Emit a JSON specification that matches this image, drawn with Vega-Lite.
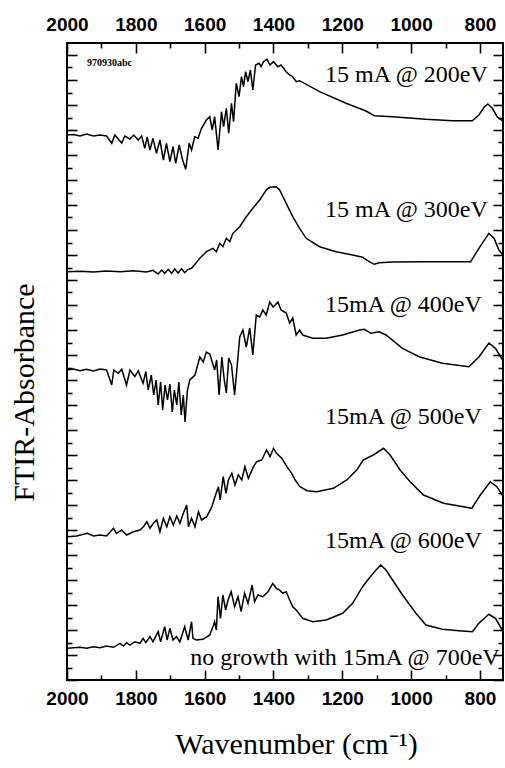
{
  "$schema": "https://vega.github.io/schema/vega-lite/v6.json",
  "width": 436,
  "height": 637,
  "autosize": {"type": "none"},
  "padding": {"left": 67, "top": 43, "right": 2, "bottom": 88},
  "background": "white",
  "config": {
    "view": {"stroke": "black", "strokeWidth": 2},
    "axis": {"domain": false, "grid": false, "tickColor": "black", "tickWidth": 1.6, "labelColor": "black", "titleColor": "black"}
  },
  "datasets": {
    "spectra": [
      {"s":"200eV","w":2000,"A":545},{"s":"200eV","w":1981,"A":545.5},{"s":"200eV","w":1962,"A":544},{"s":"200eV","w":1943,"A":546},{"s":"200eV","w":1923,"A":544},{"s":"200eV","w":1904,"A":545},{"s":"200eV","w":1885,"A":544},{"s":"200eV","w":1870,"A":536.7},{"s":"200eV","w":1861,"A":545},{"s":"200eV","w":1841,"A":537},{"s":"200eV","w":1832,"A":544},{"s":"200eV","w":1817,"A":541},{"s":"200eV","w":1806,"A":545},{"s":"200eV","w":1793,"A":540},{"s":"200eV","w":1783,"A":544},{"s":"200eV","w":1774,"A":531.7},{"s":"200eV","w":1767,"A":543},{"s":"200eV","w":1759,"A":530},{"s":"200eV","w":1750,"A":541.7},{"s":"200eV","w":1740,"A":526.7},{"s":"200eV","w":1730,"A":540},{"s":"200eV","w":1720,"A":520},{"s":"200eV","w":1711,"A":536.7},{"s":"200eV","w":1701,"A":518.3},{"s":"200eV","w":1692,"A":533.3},{"s":"200eV","w":1684,"A":516.7},{"s":"200eV","w":1674,"A":535},{"s":"200eV","w":1664,"A":520},{"s":"200eV","w":1655,"A":510.7},{"s":"200eV","w":1645,"A":536.7},{"s":"200eV","w":1638,"A":530},{"s":"200eV","w":1629,"A":543.3},{"s":"200eV","w":1619,"A":541.7},{"s":"200eV","w":1609,"A":551.7},{"s":"200eV","w":1595,"A":560},{"s":"200eV","w":1585,"A":563.3},{"s":"200eV","w":1578,"A":550},{"s":"200eV","w":1571,"A":563.3},{"s":"200eV","w":1561,"A":530},{"s":"200eV","w":1551,"A":568.3},{"s":"200eV","w":1545,"A":553.3},{"s":"200eV","w":1537,"A":571.7},{"s":"200eV","w":1530,"A":546.7},{"s":"200eV","w":1522,"A":576.7},{"s":"200eV","w":1516,"A":558.3},{"s":"200eV","w":1508,"A":596.7},{"s":"200eV","w":1500,"A":583.3},{"s":"200eV","w":1493,"A":603.3},{"s":"200eV","w":1487,"A":593.3},{"s":"200eV","w":1481,"A":608.3},{"s":"200eV","w":1474,"A":598.3},{"s":"200eV","w":1467,"A":610},{"s":"200eV","w":1460,"A":590},{"s":"200eV","w":1452,"A":615},{"s":"200eV","w":1442,"A":616.7},{"s":"200eV","w":1436,"A":613.3},{"s":"200eV","w":1429,"A":618.3},{"s":"200eV","w":1419,"A":620.7},{"s":"200eV","w":1410,"A":615},{"s":"200eV","w":1400,"A":618.3},{"s":"200eV","w":1387,"A":613.3},{"s":"200eV","w":1378,"A":615},{"s":"200eV","w":1363,"A":608.3},{"s":"200eV","w":1353,"A":605},{"s":"200eV","w":1344,"A":603.3},{"s":"200eV","w":1334,"A":598.3},{"s":"200eV","w":1324,"A":599.3},{"s":"200eV","w":1266,"A":588.3},{"s":"200eV","w":1189,"A":576.7},{"s":"200eV","w":1131,"A":569},{"s":"200eV","w":1107,"A":564.3},{"s":"200eV","w":1054,"A":563.3},{"s":"200eV","w":957,"A":560.7},{"s":"200eV","w":880,"A":559.3},{"s":"200eV","w":822,"A":559.3},{"s":"200eV","w":803,"A":565},{"s":"200eV","w":788,"A":572.7},{"s":"200eV","w":777,"A":576},{"s":"200eV","w":764,"A":571.7},{"s":"200eV","w":750,"A":563.3},{"s":"200eV","w":735,"A":559.3},
      {"s":"300eV","w":2000,"A":408.3},{"s":"300eV","w":1962,"A":408.7},{"s":"300eV","w":1923,"A":408},{"s":"300eV","w":1885,"A":409},{"s":"300eV","w":1846,"A":408.3},{"s":"300eV","w":1807,"A":409.3},{"s":"300eV","w":1769,"A":408},{"s":"300eV","w":1750,"A":409.7},{"s":"300eV","w":1735,"A":406},{"s":"300eV","w":1725,"A":410},{"s":"300eV","w":1716,"A":406.7},{"s":"300eV","w":1706,"A":410.7},{"s":"300eV","w":1696,"A":406.7},{"s":"300eV","w":1687,"A":411},{"s":"300eV","w":1677,"A":407},{"s":"300eV","w":1667,"A":411.3},{"s":"300eV","w":1658,"A":407.3},{"s":"300eV","w":1648,"A":410.7},{"s":"300eV","w":1638,"A":411.7},{"s":"300eV","w":1614,"A":421.7},{"s":"300eV","w":1595,"A":428.3},{"s":"300eV","w":1576,"A":431.7},{"s":"300eV","w":1566,"A":428.3},{"s":"300eV","w":1556,"A":436.7},{"s":"300eV","w":1547,"A":433.3},{"s":"300eV","w":1537,"A":441.7},{"s":"300eV","w":1527,"A":438.3},{"s":"300eV","w":1518,"A":446.7},{"s":"300eV","w":1498,"A":453.3},{"s":"300eV","w":1479,"A":463.3},{"s":"300eV","w":1460,"A":471.7},{"s":"300eV","w":1440,"A":480},{"s":"300eV","w":1421,"A":490},{"s":"300eV","w":1411,"A":492.7},{"s":"300eV","w":1392,"A":493.3},{"s":"300eV","w":1382,"A":490},{"s":"300eV","w":1363,"A":476.7},{"s":"300eV","w":1344,"A":463.3},{"s":"300eV","w":1324,"A":451.7},{"s":"300eV","w":1305,"A":441.7},{"s":"300eV","w":1266,"A":433.3},{"s":"300eV","w":1218,"A":428.3},{"s":"300eV","w":1170,"A":425},{"s":"300eV","w":1141,"A":422.7},{"s":"300eV","w":1122,"A":418.3},{"s":"300eV","w":1107,"A":415.7},{"s":"300eV","w":1093,"A":417.3},{"s":"300eV","w":1054,"A":418},{"s":"300eV","w":957,"A":418.3},{"s":"300eV","w":827,"A":418.3},{"s":"300eV","w":803,"A":431.7},{"s":"300eV","w":774,"A":446.7},{"s":"300eV","w":759,"A":441.7},{"s":"300eV","w":745,"A":430},{"s":"300eV","w":733,"A":425},
      {"s":"400eV","w":2000,"A":310},{"s":"400eV","w":1981,"A":311},{"s":"400eV","w":1962,"A":309.3},{"s":"400eV","w":1943,"A":310.7},{"s":"400eV","w":1923,"A":309},{"s":"400eV","w":1904,"A":311},{"s":"400eV","w":1885,"A":310},{"s":"400eV","w":1870,"A":295},{"s":"400eV","w":1864,"A":310},{"s":"400eV","w":1851,"A":306.7},{"s":"400eV","w":1841,"A":310.7},{"s":"400eV","w":1827,"A":295},{"s":"400eV","w":1817,"A":310},{"s":"400eV","w":1803,"A":303.3},{"s":"400eV","w":1793,"A":309.3},{"s":"400eV","w":1779,"A":296.7},{"s":"400eV","w":1771,"A":308.3},{"s":"400eV","w":1764,"A":290},{"s":"400eV","w":1755,"A":305},{"s":"400eV","w":1748,"A":285},{"s":"400eV","w":1741,"A":300},{"s":"400eV","w":1735,"A":275},{"s":"400eV","w":1728,"A":298},{"s":"400eV","w":1722,"A":270},{"s":"400eV","w":1715,"A":295},{"s":"400eV","w":1708,"A":280},{"s":"400eV","w":1701,"A":296},{"s":"400eV","w":1694,"A":268},{"s":"400eV","w":1688,"A":290},{"s":"400eV","w":1681,"A":275},{"s":"400eV","w":1675,"A":298},{"s":"400eV","w":1668,"A":265},{"s":"400eV","w":1662,"A":285},{"s":"400eV","w":1657,"A":258},{"s":"400eV","w":1650,"A":290},{"s":"400eV","w":1643,"A":300},{"s":"400eV","w":1628,"A":305},{"s":"400eV","w":1614,"A":323},{"s":"400eV","w":1604,"A":318},{"s":"400eV","w":1595,"A":328},{"s":"400eV","w":1585,"A":326},{"s":"400eV","w":1578,"A":318},{"s":"400eV","w":1571,"A":310},{"s":"400eV","w":1565,"A":320},{"s":"400eV","w":1558,"A":285},{"s":"400eV","w":1550,"A":323},{"s":"400eV","w":1543,"A":300},{"s":"400eV","w":1537,"A":287},{"s":"400eV","w":1530,"A":322},{"s":"400eV","w":1522,"A":315},{"s":"400eV","w":1513,"A":285},{"s":"400eV","w":1498,"A":343},{"s":"400eV","w":1489,"A":350},{"s":"400eV","w":1479,"A":333},{"s":"400eV","w":1469,"A":352},{"s":"400eV","w":1460,"A":325},{"s":"400eV","w":1450,"A":365},{"s":"400eV","w":1440,"A":363},{"s":"400eV","w":1431,"A":370},{"s":"400eV","w":1421,"A":365},{"s":"400eV","w":1411,"A":378},{"s":"400eV","w":1401,"A":373},{"s":"400eV","w":1387,"A":378},{"s":"400eV","w":1378,"A":370},{"s":"400eV","w":1363,"A":367},{"s":"400eV","w":1353,"A":357},{"s":"400eV","w":1344,"A":362},{"s":"400eV","w":1334,"A":345},{"s":"400eV","w":1324,"A":350},{"s":"400eV","w":1315,"A":345},{"s":"400eV","w":1286,"A":341.7},{"s":"400eV","w":1247,"A":341.7},{"s":"400eV","w":1199,"A":345},{"s":"400eV","w":1150,"A":350},{"s":"400eV","w":1136,"A":350.7},{"s":"400eV","w":1117,"A":346.7},{"s":"400eV","w":1093,"A":348.3},{"s":"400eV","w":1073,"A":345},{"s":"400eV","w":1025,"A":331.7},{"s":"400eV","w":977,"A":323.3},{"s":"400eV","w":909,"A":316.7},{"s":"400eV","w":832,"A":313.3},{"s":"400eV","w":803,"A":323},{"s":"400eV","w":774,"A":337},{"s":"400eV","w":755,"A":331.7},{"s":"400eV","w":734,"A":320},
      {"s":"500eV","w":2000,"A":143.3},{"s":"500eV","w":1972,"A":144},{"s":"500eV","w":1941,"A":146.7},{"s":"500eV","w":1923,"A":144},{"s":"500eV","w":1904,"A":145},{"s":"500eV","w":1885,"A":144},{"s":"500eV","w":1865,"A":151.7},{"s":"500eV","w":1856,"A":146.7},{"s":"500eV","w":1841,"A":150},{"s":"500eV","w":1827,"A":145},{"s":"500eV","w":1807,"A":148.3},{"s":"500eV","w":1788,"A":150},{"s":"500eV","w":1778,"A":153.3},{"s":"500eV","w":1768,"A":158.3},{"s":"500eV","w":1759,"A":151.7},{"s":"500eV","w":1749,"A":156.7},{"s":"500eV","w":1739,"A":160},{"s":"500eV","w":1730,"A":148.3},{"s":"500eV","w":1720,"A":161.7},{"s":"500eV","w":1710,"A":153.3},{"s":"500eV","w":1701,"A":163.3},{"s":"500eV","w":1691,"A":155},{"s":"500eV","w":1681,"A":164},{"s":"500eV","w":1672,"A":156.7},{"s":"500eV","w":1662,"A":166.7},{"s":"500eV","w":1652,"A":175},{"s":"500eV","w":1647,"A":153.3},{"s":"500eV","w":1638,"A":161.7},{"s":"500eV","w":1628,"A":153.3},{"s":"500eV","w":1618,"A":168.3},{"s":"500eV","w":1609,"A":160},{"s":"500eV","w":1594,"A":163.3},{"s":"500eV","w":1579,"A":173.3},{"s":"500eV","w":1570,"A":183.3},{"s":"500eV","w":1560,"A":193.3},{"s":"500eV","w":1555,"A":180},{"s":"500eV","w":1546,"A":203.3},{"s":"500eV","w":1538,"A":186.7},{"s":"500eV","w":1531,"A":200},{"s":"500eV","w":1521,"A":206.7},{"s":"500eV","w":1512,"A":195},{"s":"500eV","w":1502,"A":205},{"s":"500eV","w":1492,"A":200},{"s":"500eV","w":1483,"A":213.3},{"s":"500eV","w":1473,"A":201.7},{"s":"500eV","w":1458,"A":213.3},{"s":"500eV","w":1449,"A":218.3},{"s":"500eV","w":1434,"A":220},{"s":"500eV","w":1420,"A":230},{"s":"500eV","w":1410,"A":223.3},{"s":"500eV","w":1400,"A":231.7},{"s":"500eV","w":1391,"A":226.7},{"s":"500eV","w":1376,"A":221.7},{"s":"500eV","w":1361,"A":213.3},{"s":"500eV","w":1347,"A":206.7},{"s":"500eV","w":1337,"A":200},{"s":"500eV","w":1323,"A":193.3},{"s":"500eV","w":1303,"A":189.3},{"s":"500eV","w":1274,"A":188.3},{"s":"500eV","w":1226,"A":191.7},{"s":"500eV","w":1187,"A":200},{"s":"500eV","w":1158,"A":210},{"s":"500eV","w":1139,"A":220},{"s":"500eV","w":1110,"A":225},{"s":"500eV","w":1080,"A":231.7},{"s":"500eV","w":1061,"A":225},{"s":"500eV","w":1032,"A":210},{"s":"500eV","w":1003,"A":198.3},{"s":"500eV","w":964,"A":185},{"s":"500eV","w":906,"A":176.7},{"s":"500eV","w":848,"A":173.3},{"s":"500eV","w":824,"A":171.7},{"s":"500eV","w":799,"A":185},{"s":"500eV","w":770,"A":198.3},{"s":"500eV","w":751,"A":193.3},{"s":"500eV","w":732,"A":183.3},
      {"s":"600eV","w":2000,"A":31.7},{"s":"600eV","w":1962,"A":32.7},{"s":"600eV","w":1943,"A":31.7},{"s":"600eV","w":1923,"A":33.3},{"s":"600eV","w":1904,"A":32.3},{"s":"600eV","w":1885,"A":34},{"s":"600eV","w":1865,"A":32.7},{"s":"600eV","w":1846,"A":36.7},{"s":"600eV","w":1836,"A":34},{"s":"600eV","w":1827,"A":37.3},{"s":"600eV","w":1817,"A":35},{"s":"600eV","w":1803,"A":38.3},{"s":"600eV","w":1788,"A":36.7},{"s":"600eV","w":1779,"A":41.7},{"s":"600eV","w":1771,"A":37.3},{"s":"600eV","w":1759,"A":43.3},{"s":"600eV","w":1750,"A":38.3},{"s":"600eV","w":1735,"A":48.3},{"s":"600eV","w":1728,"A":38.3},{"s":"600eV","w":1716,"A":53.3},{"s":"600eV","w":1709,"A":40},{"s":"600eV","w":1701,"A":51.7},{"s":"600eV","w":1692,"A":40},{"s":"600eV","w":1682,"A":43.3},{"s":"600eV","w":1672,"A":38.3},{"s":"600eV","w":1658,"A":53.3},{"s":"600eV","w":1648,"A":40},{"s":"600eV","w":1638,"A":58.3},{"s":"600eV","w":1634,"A":41.7},{"s":"600eV","w":1624,"A":40},{"s":"600eV","w":1605,"A":40.7},{"s":"600eV","w":1585,"A":45},{"s":"600eV","w":1576,"A":53.3},{"s":"600eV","w":1571,"A":58.3},{"s":"600eV","w":1566,"A":50},{"s":"600eV","w":1561,"A":83.3},{"s":"600eV","w":1554,"A":61.7},{"s":"600eV","w":1547,"A":85},{"s":"600eV","w":1539,"A":70},{"s":"600eV","w":1532,"A":80},{"s":"600eV","w":1523,"A":88.3},{"s":"600eV","w":1513,"A":73.3},{"s":"600eV","w":1503,"A":83.3},{"s":"600eV","w":1494,"A":68.3},{"s":"600eV","w":1484,"A":86.7},{"s":"600eV","w":1474,"A":76.7},{"s":"600eV","w":1462,"A":95},{"s":"600eV","w":1455,"A":78.3},{"s":"600eV","w":1445,"A":85},{"s":"600eV","w":1431,"A":83.3},{"s":"600eV","w":1416,"A":88.3},{"s":"600eV","w":1402,"A":96.7},{"s":"600eV","w":1392,"A":91.7},{"s":"600eV","w":1382,"A":90},{"s":"600eV","w":1373,"A":86.7},{"s":"600eV","w":1363,"A":88.3},{"s":"600eV","w":1353,"A":80},{"s":"600eV","w":1344,"A":73.3},{"s":"600eV","w":1334,"A":70},{"s":"600eV","w":1315,"A":61.7},{"s":"600eV","w":1286,"A":58.3},{"s":"600eV","w":1247,"A":60},{"s":"600eV","w":1199,"A":66.7},{"s":"600eV","w":1170,"A":76.7},{"s":"600eV","w":1141,"A":93.3},{"s":"600eV","w":1122,"A":101.7},{"s":"600eV","w":1102,"A":110},{"s":"600eV","w":1088,"A":115},{"s":"600eV","w":1073,"A":110},{"s":"600eV","w":1054,"A":100},{"s":"600eV","w":1025,"A":85},{"s":"600eV","w":986,"A":66.7},{"s":"600eV","w":957,"A":55},{"s":"600eV","w":909,"A":50.7},{"s":"600eV","w":861,"A":49.3},{"s":"600eV","w":822,"A":48.3},{"s":"600eV","w":803,"A":56.7},{"s":"600eV","w":774,"A":65.7},{"s":"600eV","w":755,"A":61.7},{"s":"600eV","w":735,"A":50}
    ],
    "labels": [
      {"t":"15 mA @ 200eV","w":1250,"A":598},
      {"t":"15 mA @ 300eV","w":1250,"A":463},
      {"t":"15mA @ 400eV","w":1250,"A":368},
      {"t":"15mA @ 500eV","w":1250,"A":256},
      {"t":"15mA @ 600eV","w":1250,"A":132}
    ],
    "stamp": [{"t":"970930abc","w":1942,"A":614}],
    "note": [{"t":"no growth with 15mA @ 700eV","w":1642,"A":15}]
  },
  "layer": [
    {
      "data": {"name": "spectra"},
      "mark": {"type": "line", "color": "black", "strokeWidth": 1.5},
      "encoding": {
        "x": {"field": "w", "type": "quantitative",
          "scale": {"domain": [733, 2000], "reverse": true, "nice": false, "zero": false},
          "axis": {"orient": "bottom", "values": [800,1000,1200,1400,1600,1800,2000], "format": "d", "tickSize": -10, "labelPadding": 19,
            "labelFont": "Liberation Sans", "labelFontWeight": "bold", "labelFontSize": 19, "labelFlush": false, "labelOverlap": false,
            "title": "Wavenumber (cm⁻¹)", "titleFont": "Times New Roman", "titleFontSize": 30, "titleFontWeight": "normal",
            "titleX": 229, "titleY": 73, "titleBaseline": "alphabetic", "titleAlign": "center"}},
        "y": {"field": "A", "type": "quantitative",
          "scale": {"domain": [0, 637], "nice": false, "zero": false},
          "axis": {"orient": "left", "values": [0,25,50,75,100,125,150,175,200,225,250,275,300,325,350,375,400,425,450,475,500,525,550,575,600,625],
            "tickSize": -10, "labels": false,
            "title": "FTIR-Absorbance", "titleFont": "Times New Roman", "titleFontSize": 30, "titleFontWeight": "normal",
            "titleX": -34, "titleY": 349, "titleBaseline": "alphabetic", "titleAlign": "center", "titleAngle": 270}},
        "detail": {"field": "s"}
      }
    },
    {
      "data": {"name": "labels"},
      "mark": {"type": "text", "font": "Times New Roman", "fontSize": 24, "align": "left", "baseline": "alphabetic", "color": "black"},
      "encoding": {
        "x": {"field": "w", "type": "quantitative",
          "scale": {"domain": [733, 2000], "reverse": true, "nice": false, "zero": false},
          "axis": {"orient": "top", "values": [800,1000,1200,1400,1600,1800,2000], "format": "d", "tickSize": -10, "labelPadding": 19,
            "labelFont": "Liberation Sans", "labelFontWeight": "bold", "labelFontSize": 19, "labelFlush": false, "labelOverlap": false, "title": null}},
        "y": {"field": "A", "type": "quantitative",
          "scale": {"domain": [0, 637], "nice": false, "zero": false},
          "axis": {"orient": "right", "values": [0,25,50,75,100,125,150,175,200,225,250,275,300,325,350,375,400,425,450,475,500,525,550,575,600,625],
            "tickSize": -10, "labels": false, "title": null}},
        "text": {"field": "t"}
      }
    },
    {
      "data": {"name": "stamp"},
      "mark": {"type": "text", "font": "Times New Roman", "fontSize": 10, "fontWeight": "bold", "align": "left", "baseline": "alphabetic", "color": "black"},
      "encoding": {
        "x": {"field": "w", "type": "quantitative",
          "scale": {"domain": [733, 2000], "reverse": true, "nice": false, "zero": false},
          "axis": {"orient": "bottom", "values": [900,1100,1300,1500,1700,1900], "tickSize": -5, "labels": false, "title": null}},
        "y": {"field": "A", "type": "quantitative",
          "scale": {"domain": [0, 637], "nice": false, "zero": false},
          "axis": {"orient": "left", "values": [12.5,37.5,62.5,87.5,112.5,137.5,162.5,187.5,212.5,237.5,262.5,287.5,312.5,337.5,362.5,387.5,412.5,437.5,462.5,487.5,512.5,537.5,562.5,587.5,612.5],
            "tickSize": -5, "labels": false, "title": null}},
        "text": {"field": "t"}
      }
    },
    {
      "data": {"name": "note"},
      "mark": {"type": "text", "font": "Times New Roman", "fontSize": 24, "align": "left", "baseline": "alphabetic", "color": "black"},
      "encoding": {
        "x": {"field": "w", "type": "quantitative",
          "scale": {"domain": [733, 2000], "reverse": true, "nice": false, "zero": false},
          "axis": {"orient": "top", "values": [900,1100,1300,1500,1700,1900], "tickSize": -5, "labels": false, "title": null}},
        "y": {"field": "A", "type": "quantitative",
          "scale": {"domain": [0, 637], "nice": false, "zero": false},
          "axis": {"orient": "right", "values": [12.5,37.5,62.5,87.5,112.5,137.5,162.5,187.5,212.5,237.5,262.5,287.5,312.5,337.5,362.5,387.5,412.5,437.5,462.5,487.5,512.5,537.5,562.5,587.5,612.5],
            "tickSize": -5, "labels": false, "title": null}},
        "text": {"field": "t"}
      }
    }
  ],
  "resolve": {"axis": {"x": "independent", "y": "independent"}}
}
